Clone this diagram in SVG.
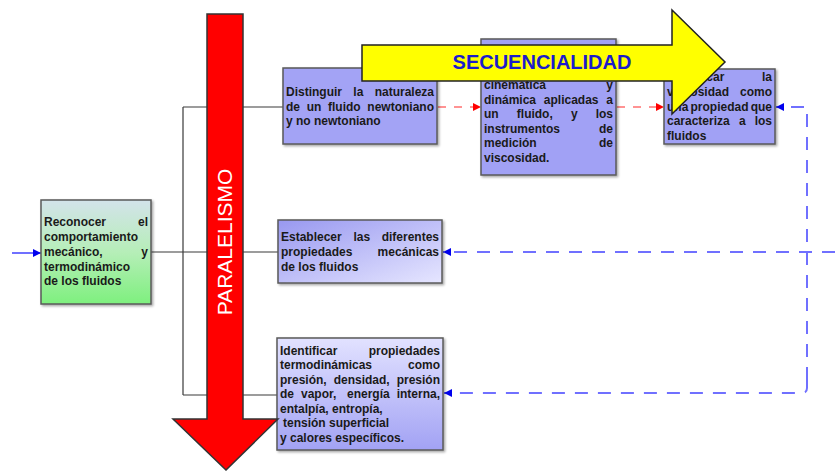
<svg xmlns="http://www.w3.org/2000/svg" width="835" height="471" viewBox="0 0 835 471">
<style>
.box{stroke:#5a5a5a;stroke-width:1.5;filter:url(#sh)}
.t{font-family:"Liberation Sans",Arial,sans-serif;font-weight:bold;font-size:12px;fill:#1a1a1a}
.e{text-anchor:end}
.br{fill:none;stroke:#3a3a3a;stroke-width:1.2}
.rd{fill:none;stroke:#ff7070;stroke-width:1.5;stroke-dasharray:8 8}
.bd{fill:none;stroke:#7070ff;stroke-width:2;stroke-dasharray:13 10}
</style>
<defs>
<filter id="sh" x="-10%" y="-10%" width="125%" height="125%"><feDropShadow dx="1.5" dy="1.5" stdDeviation="1" flood-color="#000" flood-opacity="0.35"/></filter>
<linearGradient id="gG" x1="0" y1="0" x2="0" y2="1"><stop offset="0" stop-color="#d3e3ea"/><stop offset="0.5" stop-color="#b6eeb8"/><stop offset="1" stop-color="#7ef07e"/></linearGradient>
<linearGradient id="gE" x1="0" y1="0" x2="1" y2="1"><stop offset="0" stop-color="#9898f0"/><stop offset="1" stop-color="#e6e6ff"/></linearGradient>
<linearGradient id="gI" x1="0" y1="0" x2="0" y2="1"><stop offset="0" stop-color="#e2e2ff"/><stop offset="1" stop-color="#a2a2f4"/></linearGradient>
<marker id="ar" viewBox="0 0 10 10" refX="10" refY="5" markerWidth="9" markerHeight="8" markerUnits="userSpaceOnUse" orient="auto"><path d="M0,0 L10,5 L0,10 z" fill="#ff0000"/></marker>
<marker id="ab" viewBox="0 0 10 10" refX="10" refY="5" markerWidth="10" markerHeight="8" markerUnits="userSpaceOnUse" orient="auto"><path d="M0,0 L10,5 L0,10 z" fill="#0000ee"/></marker>
</defs>

<g id="connectors">
<path class="br" d="M151,252 H278 M183,107 V395 M183,107 H283 M183,395 H277"/>
<line x1="12" y1="253" x2="41" y2="253" stroke="#4040ff" stroke-width="1.5" marker-end="url(#ab)"/>
<path class="rd" d="M438,107 H481" marker-end="url(#ar)"/>
<path class="rd" d="M617,107 H664" marker-end="url(#ar)"/>
<path class="bd" d="M835,252 H443" marker-end="url(#ab)"/>
<path class="bd" d="M807,380 V107 H776" marker-end="url(#ab)"/>
<path class="bd" d="M807,380 V388 Q807,393 802,393 H444" marker-end="url(#ab)"/>
</g>

<g id="n-reconocer">
<rect class="box" x="41" y="200" width="110" height="104" fill="url(#gG)"/>
<text class="t" x="44" y="226">Reconocer</text><text class="t e" x="148" y="226">el</text>
<text class="t" x="44" y="241">comportamiento</text>
<text class="t" x="44" y="256">mecánico,</text><text class="t e" x="148" y="256">y</text>
<text class="t" x="44" y="271">termodinámico</text>
<text class="t" x="44" y="285">de los fluidos</text>
</g>

<g id="n-distinguir">
<rect class="box" x="283" y="68" width="154" height="76" fill="#a3a3f5"/>
<text class="t" x="286" y="96">Distinguir</text><text class="t" x="353.3" y="96">la</text><text class="t e" x="434" y="96">naturaleza</text>
<text class="t" x="286" y="111">de</text><text class="t" x="306.7" y="111">un</text><text class="t" x="328" y="111">fluido</text><text class="t e" x="434" y="111">newtoniano</text>
<text class="t" x="286" y="125">y no newtoniano</text>
</g>

<g id="n-cinematica">
<rect class="box" x="481" y="39" width="135" height="136" fill="#a1a1f5"/>
<text class="t" x="484" y="89">cinemática</text><text class="t e" x="613" y="89">y</text>
<text class="t" x="484" y="103.5">dinámica</text><text class="t" x="543.8" y="103.5">aplicadas</text><text class="t e" x="613" y="103.5">a</text>
<text class="t" x="484" y="118">un</text><text class="t" x="516.8" y="118">fluido,</text><text class="t" x="570.9" y="118">y</text><text class="t e" x="613" y="118">los</text>
<text class="t" x="484" y="132.5">instrumentos</text><text class="t e" x="613" y="132.5">de</text>
<text class="t" x="484" y="147">medición</text><text class="t e" x="613" y="147">de</text>
<text class="t" x="484" y="161.5">viscosidad.</text>
</g>

<g id="n-viscosidad">
<rect class="box" x="664" y="69" width="111" height="75" fill="#a1a1f5"/>
<text class="t" x="667" y="81">Identificar</text><text class="t e" x="772" y="81">la</text>
<text class="t" x="667" y="96">viscosidad</text><text class="t e" x="772" y="96">como</text>
<text class="t" x="667" y="111">una</text><text class="t" x="690.5" y="111">propiedad</text><text class="t e" x="772" y="111">que</text>
<text class="t" x="667" y="125">caracteriza</text><text class="t" x="738.9" y="125">a</text><text class="t e" x="772" y="125">los</text>
<text class="t" x="667" y="140">fluidos</text>
</g>

<g id="n-establecer">
<rect class="box" x="278" y="220" width="164" height="63" fill="url(#gE)"/>
<text class="t" x="281" y="241">Establecer</text><text class="t" x="353.4" y="241">las</text><text class="t e" x="439" y="241">diferentes</text>
<text class="t" x="281" y="256">propiedades</text><text class="t e" x="439" y="256">mecánicas</text>
<text class="t" x="281" y="270.5">de los fluidos</text>
</g>

<g id="n-identificar">
<rect class="box" x="277" y="338" width="166" height="112" fill="url(#gI)"/>
<text class="t" x="280" y="355">Identificar</text><text class="t e" x="440" y="355">propiedades</text>
<text class="t" x="280" y="369">termodinámicas</text><text class="t e" x="440" y="369">como</text>
<text class="t" x="280" y="383.5">presión,</text><text class="t" x="333.7" y="383.5">densidad,</text><text class="t e" x="440" y="383.5">presión</text>
<text class="t" x="280" y="398">de</text><text class="t" x="301" y="398">vapor,</text><text class="t" x="347" y="398">energía</text><text class="t e" x="440" y="398">interna,</text>
<text class="t" x="280" y="412.5">entalpía, entropía,</text>
<text class="t" x="283" y="427">tensión superficial</text>
<text class="t" x="280" y="441.5">y calores específicos.</text>
</g>

<g id="n-paralelismo">
<polygon points="207,14 243,14 243,419 278,419 226,470 173,419 207,419" fill="#ff0000" stroke="#333" stroke-width="1.5" stroke-linejoin="miter"/>
<text transform="translate(232,242) rotate(-90)" text-anchor="middle" font-family="Liberation Sans,Arial,sans-serif" font-size="21" fill="#ffffff">PARALELISMO</text>
</g>

<g id="n-secuencialidad">
<polygon points="362,45 672,45 672,10 725,62 672,114 672,81 362,81" fill="#ffff00" stroke="#222" stroke-width="1.5"/>
<text x="542" y="68.5" text-anchor="middle" font-family="Liberation Sans,Arial,sans-serif" font-weight="bold" font-size="20" fill="#1c1ccc">SECUENCIALIDAD</text>
</g>
</svg>
